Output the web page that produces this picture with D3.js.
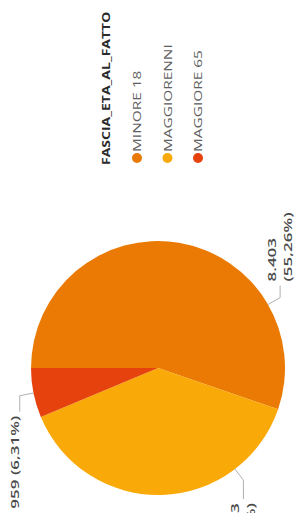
<!DOCTYPE html>
<html>
<head>
<meta charset="utf-8">
<script src="https://cdn.jsdelivr.net/npm/d3@7"></script>
<style>
  html, body { margin: 0; padding: 0; background: #fff; }
  svg { display: block; }
  text { font-family: "Open Sans", sans-serif; }
</style>
</head>
<body>
<svg></svg>
<script>
// data
var categories = ['MINORE 18', 'MAGGIORENNI', 'MAGGIORE 65'];
var values = [8403, 5843, 959];
var colors = ['#EA7A03', '#F9A908', '#E5420E'];
var legendTitle = 'FASCIA_ETA_AL_FATTO';

// label layout: where on the slice the leader starts (0..1), length of the flat leg, lines
var labelFrac = [0.754, 0.244, 0.5];
var labelLead = [12, 19, 16];
var labelLines = [2, 2, 1];

var width = 302, height = 513;

var svg = d3.select('svg')
	.attr('width', width)
	.attr('height', height);

// the chart is photographed turned a quarter, so draw it in its own frame and rotate
var g = svg.append('g')
	.attr('transform', 'translate(0,' + height + ') rotate(-90)');

var it = d3.formatLocale({ decimal: ',', thousands: '.', grouping: [3], currency: ['€', ''] });
var fmtNum = it.format(',d'),
	fmtPct = it.format('.2%');

var cx = 145, cy = 158, r = 127;

var pie = d3.pie().sort(null).value(function(d) { return d; });
var arcs = pie(values);
var total = d3.sum(values);

var arc = d3.arc().innerRadius(0).outerRadius(r);

var gPie = g.append('g').attr('transform', 'translate(' + cx + ',' + cy + ')');

gPie.selectAll('path')
	.data(arcs)
	.enter().append('path')
	.attr('d', arc)
	.attr('fill', function(d, i) { return colors[i]; });

// labels with leader lines
var gLabels = gPie.append('g');
arcs.forEach(function(d, i) {
	var a = d.startAngle + labelFrac[i] * (d.endAngle - d.startAngle);
	var p0 = [r * Math.sin(a), -r * Math.cos(a)];
	var p1 = [(r + 14) * Math.sin(a), -(r + 14) * Math.cos(a)];
	var side = Math.sin(a) > 0 ? 1 : -1;
	var p2 = [p1[0] + side * labelLead[i], p1[1]];

	gLabels.append('path')
		.attr('d', 'M' + p0 + 'L' + p1 + 'L' + p2)
		.attr('fill', 'none')
		.attr('stroke', '#b0b0b0')
		.attr('stroke-width', 1);

	var t = gLabels.append('text')
		.attr('transform', 'translate(' + (p2[0] + side * 4) + ',' + p2[1] + ') scale(1.55,1)')
		.attr('text-anchor', side > 0 ? 'start' : 'end')
		.attr('font-size', 11)
		.attr('font-weight', 600)
		.attr('fill', '#4a4a4a');

	var v = fmtNum(d.data), p = '(' + fmtPct(d.data / total) + ')';
	if (labelLines[i] === 2) {
		t.append('tspan').attr('x', 0).attr('y', -4).text(v);
		t.append('tspan').attr('x', 0).attr('y', 12).text(p);
	} else {
		t.append('tspan').attr('x', 0).attr('y', -1).text(v + ' ' + p);
	}
});

// legend
var legendX = 348;
var gLegend = g.append('g');

gLegend.append('text')
	.attr('transform', 'translate(' + legendX + ',110) scale(1.4,1)')
	.attr('font-size', 10)
	.attr('font-weight', 'bold')
	.attr('fill', '#2a2a2a')
	.text(legendTitle);

var ly = d3.scalePoint().domain(categories).range([137, 198]);

var item = gLegend.selectAll('g.item')
	.data(categories)
	.enter().append('g')
	.attr('class', 'item')
	.attr('transform', function(d) { return 'translate(' + (legendX + 7) + ',' + ly(d) + ')'; });

item.append('circle')
	.attr('r', 5)
	.attr('fill', function(d, i) { return colors[i]; });

item.append('text')
	.attr('transform', 'translate(6,4) scale(1.4,1)')
	.attr('font-size', 11)
	.attr('fill', '#606060')
	.text(function(d) { return d; });
</script>
</body>
</html>
